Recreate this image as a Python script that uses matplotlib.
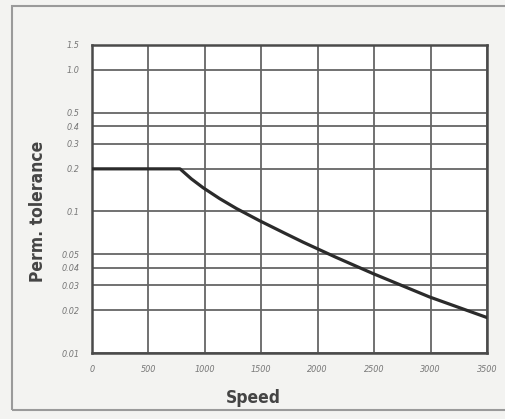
import matplotlib
matplotlib.use("Agg")
import matplotlib.pyplot as plt
from matplotlib.patches import Rectangle

# curve (speed -> permissible tolerance)
speed = [0, 780, 880, 985, 1130, 1280, 1485, 1700, 1870, 2160, 2490, 2990, 3500]
tolerance = [0.2, 0.2, 0.170, 0.147, 0.1234, 0.1049, 0.086, 0.0707, 0.0607, 0.0475, 0.0364, 0.0249, 0.0178]

x_ticks = [0, 500, 1000, 1500, 2000, 2500, 3000, 3500]
y_ticks = [0.01, 0.02, 0.03, 0.04, 0.05, 0.1, 0.2, 0.3, 0.4, 0.5, 1.0, 1.5]
y_labels = ["0.01", "0.02", "0.03", "0.04", "0.05", "0.1", "0.2", "0.3", "0.4", "0.5", "1.0", "1.5"]

fig = plt.figure(figsize=(5.06, 4.19), dpi=100, facecolor="#f3f3f1")
ax = fig.add_axes([92 / 506, 1 - 353 / 419, (487 - 92) / 506, (353 - 45) / 419])
ax.set_facecolor("white")

# outer frame of the scan
fig.patches.append(Rectangle((12 / 506, 1 - 410 / 419), 1.2, (410 - 6) / 419,
                             transform=fig.transFigure, fill=False,
                             edgecolor="#9a9a9a", lw=1.5))

ax.set_yscale("log")
ax.set_xlim(0, 3500)
ax.set_ylim(0.01, 1.5)

for v in x_ticks:
    ax.axvline(v, color="#666666", lw=1.3, zorder=1)
for v in y_ticks:
    ax.axhline(v, color="#666666", lw=1.3, zorder=1)

ax.plot(speed, tolerance, color="#2b2b2b", lw=2.3, zorder=3, solid_joinstyle="round")

ax.set_xticks(x_ticks)
ax.set_xticklabels([str(v) for v in x_ticks])
ax.set_yticks(y_ticks)
ax.set_yticklabels(y_labels)
ax.minorticks_off()
ax.tick_params(length=0, labelsize=6.5, labelcolor="#777777", pad=9)
for lab in ax.get_xticklabels() + ax.get_yticklabels():
    lab.set_fontstyle("italic")
    lab.set_fontstretch("condensed")

for s in ax.spines.values():
    s.set_color("#4a4a4a")
    s.set_linewidth(1.8)

fig.text(253 / 506, 1 - 398 / 419, "Speed", ha="center", va="center",
         fontsize=12.5, fontweight="bold", fontstretch="condensed", color="#444444")
fig.text(38 / 506, 1 - 211 / 419, "Perm. tolerance", ha="center", va="center",
         rotation=90, fontsize=12.5, fontweight="bold", fontstretch="condensed",
         color="#444444")

fig.savefig("out.png", dpi=100, facecolor=fig.get_facecolor())
